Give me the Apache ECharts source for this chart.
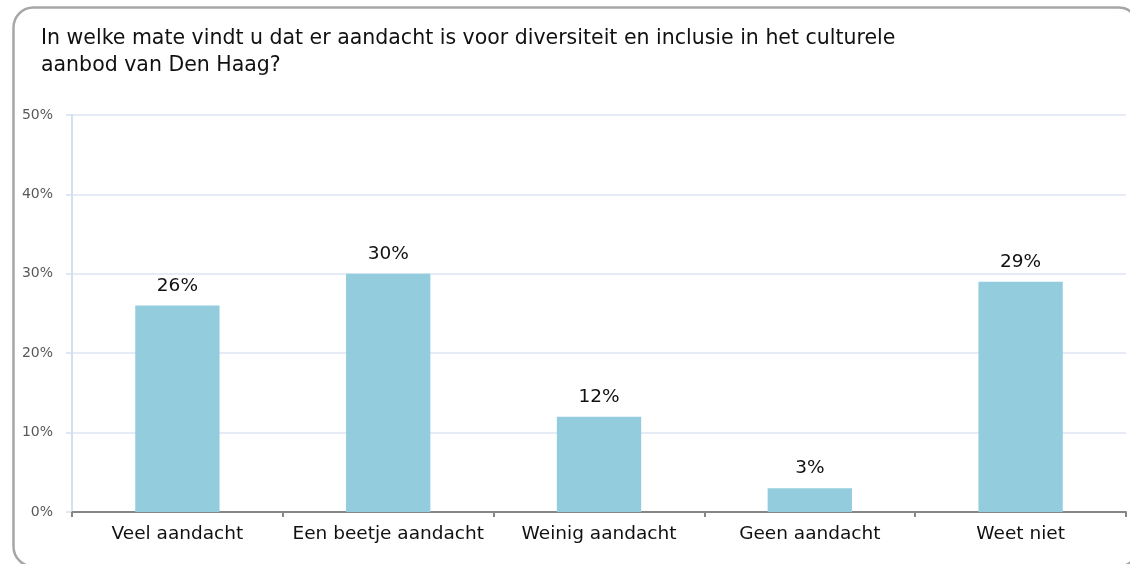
<!DOCTYPE html>
<html>
<head>
<meta charset="utf-8">
<script src="https://cdn.jsdelivr.net/npm/echarts@6/dist/echarts.min.js"></script>
<style>
html,body{margin:0;padding:0;background:#fff;}
#chart{width:1130px;height:564px;}
</style>
</head>
<body>
<div id="chart"></div>
<script>
var titleText = "In welke mate vindt u dat er aandacht is voor diversiteit en inclusie in het culturele\naanbod van Den Haag?";
var categories = ["Veel aandacht", "Een beetje aandacht", "Weinig aandacht", "Geen aandacht", "Weet niet"];
var values = [26, 30, 12, 3, 29];
var yTicks = [0, 10, 20, 30, 40, 50];

var chart = echarts.init(document.getElementById('chart'), null, {renderer: 'canvas'});
chart.setOption({
  animation: false,
  backgroundColor: '#ffffff',
  graphic: [{
    type: 'rect',
    left: 11, top: 5,
    shape: {width: 1125, height: 559, r: 20},
    style: {fill: 'none', stroke: '#a6a6a6', lineWidth: 2.5},
    silent: true
  }],
  title: {
    text: titleText,
    left: 36, top: 20,
    textStyle: {fontFamily: 'DejaVu Sans', fontSize: 20.5, fontWeight: 'normal', color: '#111111', lineHeight: 27}
  },
  grid: {left: 72, right: 4, top: 115, bottom: 52, containLabel: false},
  xAxis: {
    type: 'category',
    data: categories,
    axisLine: {show: true, lineStyle: {color: '#868686', width: 2}},
    axisTick: {show: true, length: 5, alignWithLabel: false, lineStyle: {color: '#868686', width: 2}},
    axisLabel: {margin: 13, fontFamily: 'DejaVu Sans', fontSize: 18.5, color: '#111111', interval: 0},
    splitLine: {show: false}
  },
  yAxis: {
    type: 'value',
    min: yTicks[0], max: yTicks[yTicks.length - 1], interval: 10,
    axisLine: {show: true, lineStyle: {color: '#d5e0ef', width: 2}},
    axisTick: {show: true, length: 6, lineStyle: {color: '#d5e0ef', width: 1.5}},
    axisLabel: {margin: 19, fontFamily: 'DejaVu Sans', fontSize: 14, color: '#595959', formatter: '{value}%'},
    splitLine: {show: true, lineStyle: {color: '#dce6f2', width: 1.5}}
  },
  series: [{
    type: 'bar',
    data: values,
    barWidth: '40%',
    itemStyle: {color: '#93cddd'},
    label: {
      show: true, position: 'top', distance: 10,
      formatter: '{c}%',
      fontFamily: 'DejaVu Sans', fontSize: 18.5, color: '#111111'
    }
  }]
});
</script>
</body>
</html>
